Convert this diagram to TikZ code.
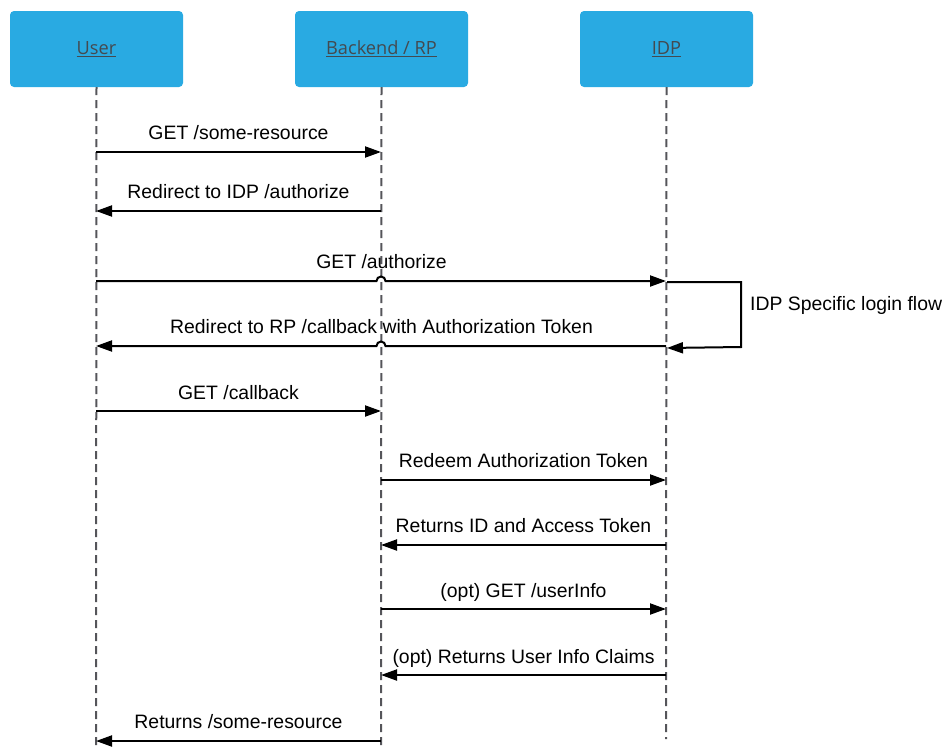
\documentclass[tikz,border=0pt]{standalone}
\usepackage{fontspec}
\setmainfont{Liberation Sans}
\newfontfamily\boxfont{Open Sans}
\usetikzlibrary{arrows.meta}
\definecolor{boxblue}{RGB}{41,170,226}
\definecolor{boxtext}{RGB}{68,74,80}
\definecolor{lifegray}{RGB}{85,85,90}
\tikzset{
  actor/.style={draw=none, fill=boxblue, rounded corners=4pt, minimum width=173pt, minimum height=76pt, inner sep=0pt,
    font=\boxfont\fontsize{18.2}{21}\selectfont, text=boxtext},
  lifeline/.style={draw=lifegray, line width=2pt, dash pattern=on 8pt off 5pt},
  msg/.style={draw=black, line width=2pt, -{Triangle[length=16pt,width=11pt]}},
  msglabel/.style={font=\fontsize{19.4}{23}\selectfont, anchor=base, inner sep=0pt},
}
\begin{document}
\begin{tikzpicture}[x=1pt,y=-1pt]
\useasboundingbox (0,0) rectangle (942,753);
% actors
\node[actor] (user) at (96.5,49) {\raisebox{-1pt}{\underline{User}}};
\node[actor] (rp) at (381.5,49) {\raisebox{-1pt}{\underline{Backend / RP}}};
\node[actor] (idp) at (666.5,49) {\raisebox{-1pt}{\underline{IDP}}};
% lifeline ends
\coordinate (userend) at (96,746);
\coordinate (rpend) at (381,749);
\coordinate (idpend) at (666,739);
\draw[lifeline] (user.south) -- (userend);
\draw[lifeline] (rp.south) -- (rpend);
\draw[lifeline] (idp.south) -- (idpend);
% message endpoints
\foreach \n/\y in {1/152,2/211,3/281,4/346,5/411,6/480,7/545,8/609,9/675,10/741}{
  \coordinate (u\n) at (96,\y);
  \coordinate (r\n) at (381,\y);
  \coordinate (i\n) at (666,\y);
}
% 1
\draw[msg] (u1) -- node[msglabel, yshift=13pt] {GET /some-resource} (r1);
% 2
\draw[msg] (r2) -- node[msglabel, yshift=13pt] {Redirect to IDP /authorize} (u2);
% 3 with hop
\coordinate (h3a) at (376.5,281);
\draw[msg] (u3) -- (h3a) arc[start angle=180, end angle=360, radius=4.5] -- (i3);
\node[msglabel] (l3) at (381.5,268) {GET /authorize};
% 4 with hop
\coordinate (h4a) at (385.5,346);
\draw[msg] (i4) -- (h4a) arc[start angle=0, end angle=-180, radius=4.5] -- (u4);
\node[msglabel] (l4) at (381.5,333) {Redirect to RP /callback with Authorization Token};
% self loop
\coordinate (sl1) at (667,282);
\coordinate (sl2) at (741,282);
\coordinate (sl3) at (741,347);
\coordinate (sl4) at (667,348);
\draw[msg] (sl1) -- (sl2) -- (sl3) -- (sl4);
\node[font=\fontsize{19.4}{23}\selectfont, anchor=base west, inner sep=0pt] (loop) at (750,310) {IDP Specific login flow};
% 5
\draw[msg] (u5) -- node[msglabel, yshift=12pt] {GET /callback} (r5);
% 6
\draw[msg] (r6) -- node[msglabel, yshift=13pt] {Redeem Authorization Token} (i6);
% 7
\draw[msg] (i7) -- node[msglabel, yshift=13pt] {Returns ID and Access Token} (r7);
% 8
\draw[msg] (r8) -- node[msglabel, yshift=12pt] {(opt) GET /userInfo} (i8);
% 9
\draw[msg] (i9) -- node[msglabel, yshift=12pt] {(opt) Returns User Info Claims} (r9);
% 10
\draw[msg] (r10) -- node[msglabel, yshift=13pt] {Returns /some-resource} (u10);
\end{tikzpicture}
\end{document}
